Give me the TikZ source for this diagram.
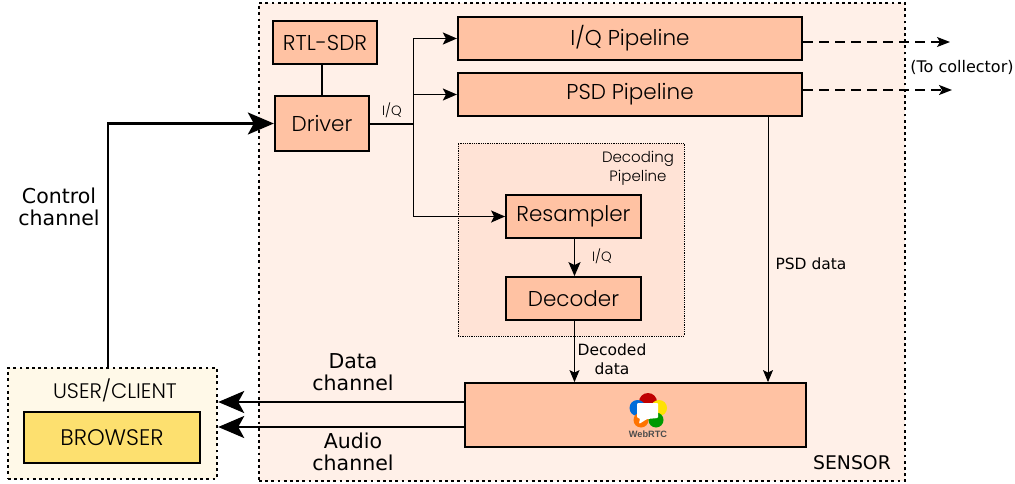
\documentclass[tikz,border=0pt]{standalone}
\usepackage{fontspec}
\setmainfont{Poppins Light}
\newfontfamily\dejavu{DejaVu Sans}
\newfontfamily\libre{Liberation Sans}
\usetikzlibrary{arrows.meta,positioning}
\definecolor{sensorbg}{HTML}{FFF0E8}
\definecolor{decbg}{HTML}{FFE3D6}
\definecolor{boxfill}{HTML}{FFC2A3}
\definecolor{clientbg}{HTML}{FFF9E8}
\definecolor{browserbg}{HTML}{FDE06F}
\tikzset{
  box/.style={draw=black,line width=1.8pt,fill=boxfill,inner sep=0pt,font=\fontsize{21.5}{24}\selectfont},
  smalltxt/.style={font=\dejavu\fontsize{15.5}{19}\selectfont,align=center,inner sep=0pt},
  midtxt/.style={font=\dejavu\fontsize{20.5}{22}\selectfont,align=center,inner sep=0pt},
  thinarrow/.style={line width=1pt,-{Stealth[length=12pt,width=10pt,inset=2.5pt]}},
  midarrow/.style={line width=1.8pt,-{Stealth[length=14pt,width=12pt,inset=3pt]}},
  bigarrow/.style={line width=2.4pt,-{Stealth[length=26pt,width=22pt,inset=6pt]}},
  dasharrow/.style={line width=1.2pt,dash pattern=on 10pt off 6pt,-{Stealth[length=13pt,width=10pt,inset=3pt]}},
  dotbox/.style={draw=black,line width=2.4pt,dash pattern=on 2.8pt off 3.4pt,inner sep=0pt},
}
\begin{document}
\begin{tikzpicture}[x=1pt,y=-1pt]
\useasboundingbox (0,0) rectangle (1015,484);
% containers
\node[dotbox,fill=sensorbg,minimum width=646pt,minimum height=478pt] (sensor) at (582,242) {};
\node[dotbox,fill=clientbg,minimum width=209pt,minimum height=111pt] (user) at (112.5,423.5) {};
\node[draw=black,line width=.8pt,densely dotted,fill=decbg,minimum width=226pt,minimum height=193pt,inner sep=0pt] (decoding) at (571,239.5) {};
% boxes
\node[box,minimum width=103.5pt,minimum height=43pt] (rtl) at (325,42.5) {RTL-SDR};
\node[box,minimum width=94.5pt,minimum height=55pt] (driver) at (322,123.5) {Driver};
\node[box,line width=2.2pt,minimum width=344pt,minimum height=43pt] (iq) at (630,38.5) {I/Q Pipeline};
\node[box,line width=2.2pt,minimum width=344pt,minimum height=43pt] (psd) at (630,94.5) {\raisebox{-1pt}{PSD Pipeline}};
\node[box,minimum width=135pt,minimum height=43pt] (resampler) at (573.5,216.5) {\raisebox{-2pt}{Resampler}};
\node[box,minimum width=135pt,minimum height=43pt] (decoder) at (573.5,298.5) {Decoder};
\node[box,minimum width=341pt,minimum height=64pt] (webrtc) at (635.5,415) {};
\node[box,fill=browserbg,line width=2.4pt,minimum width=176pt,minimum height=51pt,font=\fontsize{22.5}{25}\selectfont] (browser) at (112,437.5) {BROWSER};
% container labels
\node[inner sep=0pt,font=\fontsize{21}{24}\selectfont] (userlab) at (115,390) {USER/CLIENT};
\node[inner sep=0pt,font=\dejavu\fontsize{18.8}{22}\selectfont] (sensorlab) at (852,463) {SENSOR};
\node[align=center,inner sep=0pt,font=\fontsize{15}{19}\selectfont] (declab) at (638,168) {Decoding\\Pipeline};
% WebRTC logo
\fill[red!75!black] (648,402) circle (9pt);
\fill[blue!50!cyan!85!black] (637.5,408) circle (8pt);
\fill[yellow!85!orange] (659,408) circle (8pt);
\fill[orange!90!red] (641,420) circle (7.5pt);
\fill[green!60!black] (656,420) circle (7.5pt);
\fill[white,rounded corners=1pt] (637,403) -- (658,403) -- (658,418) -- (647,419) -- (639,424) -- (640,418) -- (637,418) -- cycle;
\node[inner sep=0pt,text=black!70,font=\libre\bfseries\fontsize{9.2}{11}\selectfont] (webrtclab) at (648,434) {WebRTC};
% helper coordinates
\coordinate (junction) at (413.5,124);
\coordinate (ctl) at (108,368);
\coordinate (dataY) at (0,402);
\coordinate (audioY) at (0,427);
\coordinate (iqEnd) at (950,42);
\coordinate (psdEnd) at (952,90);
\coordinate (psdX) at (768,0);
\coordinate (decX) at (574.5,0);
% connectors
\draw[line width=1.8pt] (rtl.south -| driver.north) -- (driver.north);
\draw[line width=1.2pt] (driver.east |- junction) -- (junction);
\draw[midarrow] (junction) |- (iq.west);
\draw[midarrow,line width=1.2pt] (junction) |- (psd.west);
\draw[midarrow,line width=1.6pt] (junction) |- (resampler.west);
\draw[midarrow] (resampler.south -| decX) -- (decoder.north -| decX);
\draw[thinarrow] (decoder.south -| decX) -- (webrtc.north -| decX);
\draw[thinarrow] (psd.south -| psdX) -- (webrtc.north -| psdX);
\draw[bigarrow] (ctl) |- (driver.west);
\draw[bigarrow] (webrtc.west |- dataY) -- (user.east |- dataY);
\draw[bigarrow] (webrtc.west |- audioY) -- (user.east |- audioY);
\draw[dasharrow] (iq.east |- iqEnd) -- (iqEnd);
\draw[dasharrow,line width=1.6pt] (psd.east |- psdEnd) -- (psdEnd);
% labels
\node[inner sep=0pt,font=\fontsize{13.5}{15}\selectfont] (lab1) at (392,110) {I/Q};
\node[inner sep=0pt,font=\fontsize{13.5}{15}\selectfont] (lab2) at (602,256) {I/Q};
\node[smalltxt] (lab3) at (811,264) {PSD data};
\node[smalltxt] (lab4) at (612,359) {Decoded\\data};
\node[smalltxt,font=\dejavu\fontsize{16}{19}\selectfont] (lab5) at (962,67) {(To collector)};
\node[midtxt] (lab6) at (59,207) {Control\\channel};
\node[midtxt] (lab7) at (353,372) {Data\\channel};
\node[midtxt] (lab8) at (353,452) {Audio\\channel};
\end{tikzpicture}
\end{document}
